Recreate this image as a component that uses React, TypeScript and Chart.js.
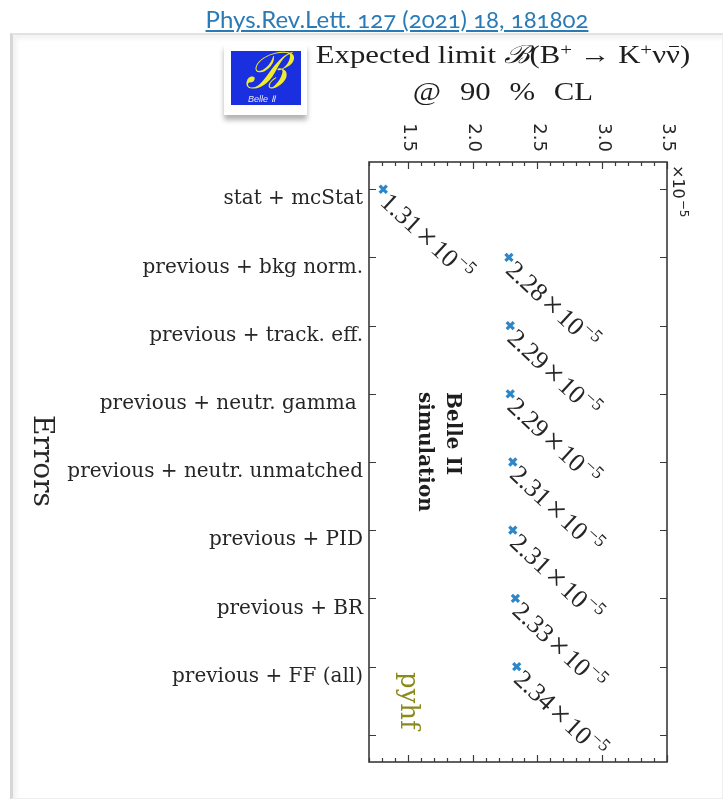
import React, { useEffect, useRef } from "react";
import { Chart, registerables } from "chart.js";
Chart.register(...registerables);

const categories = [
  "stat + mcStat",
  "previous + bkg norm.",
  "previous + track. eff.",
  "previous + neutr. gamma ",
  "previous + neutr. unmatched",
  "previous + PID",
  "previous + BR",
  "previous + FF (all)",
];
const limits = [1.31, 2.28, 2.29, 2.29, 2.31, 2.31, 2.33, 2.34];
const limitLabels = ["1.31", "2.28", "2.29", "2.29", "2.31", "2.31", "2.33", "2.34"];
const xMajorTicks = [1.5, 2.0, 2.5, 3.0, 3.5];
const xTickLabels = ["1.5", "2.0", "2.5", "3.0", "3.5"];
const exponentText = "−5";
const xMin = 1.2;
const xMax = 3.5;
const yTickCount = 9;

const AXIS = "#3a3a3a";
const TEXT = "#262626";

const decorPlugin = {
  id: "decor",
  afterDatasetsDraw(chart: any) {
    const { ctx, chartArea: a, scales } = chart;
    const x = scales.x;
    const y = scales.y;
    ctx.save();
    // frame
    ctx.strokeStyle = AXIS;
    ctx.lineWidth = 1.6;
    ctx.strokeRect(a.left, a.top, a.right - a.left, a.bottom - a.top);
    // x ticks (inward) top & bottom
    ctx.lineWidth = 1.2;
    ctx.beginPath();
    for (let k = 12; k <= 35; k++) {
      const v = k / 10;
      const px = Math.round(x.getPixelForValue(v)) + 0.5;
      const major = xMajorTicks.some((m) => Math.abs(m - v) < 1e-6);
      const len = major ? 7 : 4;
      ctx.moveTo(px, a.top);
      ctx.lineTo(px, a.top + len);
      ctx.moveTo(px, a.bottom);
      ctx.lineTo(px, a.bottom - len);
    }
    // y ticks left & right
    for (let i = 0; i < yTickCount; i++) {
      const py = Math.round(y.getPixelForValue(i)) + 0.5;
      ctx.moveTo(a.left, py);
      ctx.lineTo(a.left + 7, py);
      ctx.moveTo(a.right, py);
      ctx.lineTo(a.right - 7, py);
    }
    ctx.stroke();

    // x tick labels rotated clockwise
    ctx.fillStyle = TEXT;
    ctx.font = '18px "DejaVu Sans"';
    xMajorTicks.forEach((v, i) => {
      const px = x.getPixelForValue(v);
      ctx.save();
      ctx.translate(px + 1, a.top - 10);
      ctx.rotate(Math.PI / 2);
      ctx.textAlign = "right";
      ctx.textBaseline = "middle";
      ctx.fillText(xTickLabels[i], 0, 0);
      ctx.restore();
    });

    // exponent label
    ctx.save();
    ctx.translate(a.right + 6, a.top + 3);
    ctx.rotate(Math.PI / 2);
    ctx.textAlign = "left";
    ctx.textBaseline = "alphabetic";
    ctx.font = '16px "DejaVu Sans"';
    ctx.fillText("×10", 0, 0);
    const w0 = ctx.measureText("×10").width;
    ctx.font = '12px "DejaVu Sans"';
    ctx.fillText(exponentText, w0 + 1, -7);
    ctx.restore();

    // annotations on points
    const meta = chart.getDatasetMeta(0);
    const ang = (43 * Math.PI) / 180;
    meta.data.forEach((pt: any, i: number) => {
      ctx.save();
      ctx.translate(pt.x + 10, pt.y - 1);
      ctx.rotate(ang);
      ctx.textAlign = "left";
      ctx.textBaseline = "alphabetic";
      ctx.fillStyle = TEXT;
      const base = 21;
      ctx.font = '26px "Liberation Serif"';
      let cx = 0;
      ctx.fillText(limitLabels[i], cx, base);
      cx += ctx.measureText(limitLabels[i]).width + 3;
      ctx.font = '32px "Liberation Serif"';
      ctx.fillText("×", cx, base + 2);
      cx += ctx.measureText("×").width + 3;
      ctx.font = '26px "Liberation Serif"';
      ctx.fillText("10", cx, base);
      cx += ctx.measureText("10").width + 1;
      ctx.font = '18px "Liberation Serif"';
      ctx.fillText(exponentText, cx, base - 10);
      ctx.restore();
    });

    // Belle II simulation
    ctx.fillStyle = "#1e1e1e";
    ctx.font = 'bold 20px "DejaVu Serif"';
    ctx.textAlign = "left";
    ctx.textBaseline = "alphabetic";
    ctx.save();
    ctx.translate(a.left + 78, a.top + 230);
    ctx.rotate(Math.PI / 2);
    ctx.fillText("Belle II", 0, 0);
    ctx.restore();
    ctx.save();
    ctx.translate(a.left + 50, a.top + 230);
    ctx.rotate(Math.PI / 2);
    ctx.fillText("simulation", 0, 0);
    ctx.restore();

    // pyhf
    ctx.save();
    ctx.fillStyle = "#8b8b1c";
    ctx.font = '26px "DejaVu Serif"';
    ctx.translate(a.left + 32, a.top + 510);
    ctx.rotate(Math.PI / 2);
    ctx.fillText("pyhf", 0, 0);
    ctx.restore();

    // y axis title "Errors"
    ctx.save();
    ctx.fillStyle = TEXT;
    ctx.font = '28px "DejaVu Serif"';
    ctx.translate(34, 415);
    ctx.rotate(Math.PI / 2);
    ctx.fillText("Errors", 0, 0);
    ctx.restore();

    ctx.restore();
  },
};

function ChartCanvas() {
  const ref = useRef<HTMLCanvasElement | null>(null);
  useEffect(() => {
    if (!ref.current) return;
    const chart = new Chart(ref.current, {
      type: "scatter",
      data: {
        datasets: [
          {
            data: limits.map((v, i) => ({ x: v, y: i })),
            pointStyle: "crossRot",
            pointRadius: 5,
            pointBorderWidth: 3.2,
            borderColor: "#2c86c8",
            backgroundColor: "#2c86c8",
            showLine: false,
          },
        ],
      },
      options: {
        animation: false,
        responsive: false,
        devicePixelRatio: 1,
        layout: { padding: { left: 0, top: 0, right: 60, bottom: 40 } },
        plugins: { legend: { display: false }, tooltip: { enabled: false } },
        scales: {
          x: {
            type: "linear",
            position: "top",
            min: xMin,
            max: xMax,
            afterFit: (s: any) => {
              s.height = 162;
            },
            grid: { display: false, drawTicks: false },
            border: { display: false },
            ticks: { display: false },
          },
          y: {
            type: "linear",
            min: -0.4,
            max: 8.4,
            reverse: true,
            afterFit: (s: any) => {
              s.width = 369;
            },
            grid: { display: false, drawTicks: false },
            border: { display: false },
            ticks: {
              stepSize: 1,
              includeBounds: false,
              autoSkip: false,
              padding: 6,
              labelOffset: 10,
              color: TEXT,
              font: { family: '"DejaVu Serif"', size: 20 },
              callback: (v: any) => categories[v] ?? "",
            },
          },
        },
      },
      plugins: [decorPlugin],
    } as any);
    return () => chart.destroy();
  }, []);
  return <canvas ref={ref} width={727} height={802} style={{ display: "block", position: "absolute", left: 0, top: 0 }} />;
}

export default function App() {
  const serif = '"Liberation Serif", "DejaVu Serif", serif';
  const sup = { fontSize: "0.68em", position: "relative" as const, top: "-0.5em" };
  return (
    <div style={{ position: "absolute", left: 0, top: 0, width: 727, height: 802, background: "#fff", overflow: "hidden" }}>
      <div
        style={{
          position: "absolute",
          left: 10,
          top: 33,
          width: 713,
          height: 766,
          boxSizing: "border-box",
          borderTop: "2px solid #e2e2e2",
          borderLeft: "3px solid #d6d6d6",
          borderRight: "1px solid #eeeeee",
          borderBottom: "1px solid #eeeeee",
          boxShadow: "inset 4px 4px 4px rgba(0,0,0,0.05)",
        }}
      />
      <ChartCanvas />
      <div
        style={{
          position: "absolute",
          left: 147,
          width: 500,
          top: 4,
          textAlign: "center",
          whiteSpace: "nowrap",
          fontFamily: "Lato, 'Open Sans', sans-serif",
          fontSize: 24,
          lineHeight: "29px",
          color: "#2a7ab6",
          textDecoration: "underline",
          fontVariantNumeric: "oldstyle-nums",
        }}
      >
        Phys.Rev.Lett. 127 (2021) 18, 181802
      </div>
      <div
        style={{
          position: "absolute",
          left: 253,
          width: 500,
          top: 38,
          textAlign: "center",
          whiteSpace: "nowrap",
          fontFamily: serif,
          fontSize: 25,
          lineHeight: "34px",
          color: "#1e1e1e",
          transform: "scaleX(1.23)",
          transformOrigin: "50% 50%",
        }}
      >
        <div>
          Expected limit <span style={{ fontFamily: '"DejaVu Serif", serif', fontStyle: "italic" }}>ℬ</span>(B
          <span style={sup}>+</span> → K<span style={sup}>+</span>ν
          <span style={{ position: "relative", display: "inline-block" }}>
            ν
            <span style={{ position: "absolute", left: "0.08em", right: "0.05em", top: "0.3em", borderTop: "1.5px solid #1e1e1e" }} />
          </span>
          )
        </div>
        <div style={{ wordSpacing: "9px" }}>@ 90 % CL</div>
      </div>
      <div
        style={{
          position: "absolute",
          left: 224,
          top: 44,
          width: 83,
          height: 71,
          background: "#fff",
          boxShadow: "0 5px 5px rgba(0,0,0,0.3)",
        }}
      >
        <div
          style={{
            position: "absolute",
            left: 7,
            top: 7,
            width: 70,
            height: 54,
            background: "#1a2fe0",
            overflow: "hidden",
          }}
        >
          <div
            style={{
              position: "absolute",
              left: 0,
              right: 0,
              top: -8,
              textAlign: "center",
              fontFamily: '"DejaVu Serif", serif',
              fontStyle: "italic",
              fontSize: 50,
              lineHeight: "56px",
              color: "#f0ec2a",
            }}
          >
            ℬ
          </div>
          <div
            style={{
              position: "absolute",
              left: 17,
              top: 43,
              fontFamily: '"Liberation Sans", sans-serif',
              fontStyle: "italic",
              fontSize: 9,
              lineHeight: "10px",
              color: "#e6e6f0",
            }}
          >
            Belle Ⅱ
          </div>
        </div>
      </div>
    </div>
  );
}
